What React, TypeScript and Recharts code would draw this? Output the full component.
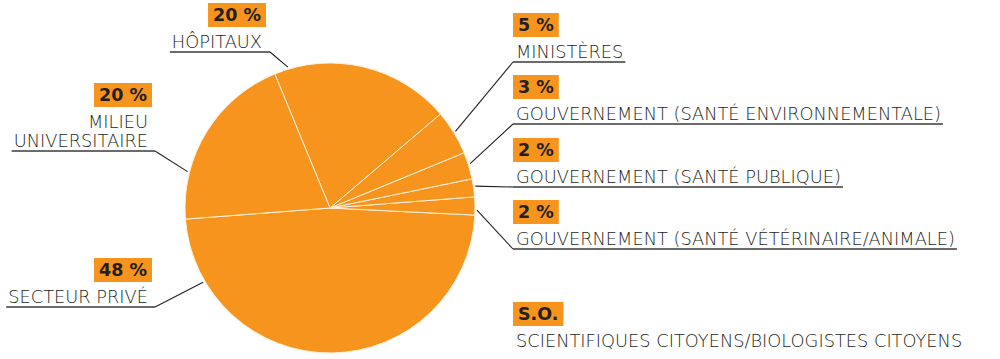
import React from 'react';
import { PieChart, Pie, Cell } from 'recharts';

// secteurs, dans l'ordre du tracé (sens antihoraire depuis la gauche)
const categories = [
  'Secteur privé',
  'Gouvernement (santé vétérinaire/animale)',
  'Gouvernement (santé publique)',
  'Gouvernement (santé environnementale)',
  'Ministères',
  'Hôpitaux',
  'Milieu universitaire',
  'Scientifiques citoyens/biologistes citoyens',
];
const shares = [48, 2, 2, 3, 5, 20, 20, 0];
const shareLabels = ['48 %', '2 %', '2 %', '3 %', '5 %', '20 %', '20 %', 'S.O.'];
const labelLines = [
  ['SECTEUR PRIVÉ'],
  ['GOUVERNEMENT (SANTÉ VÉTÉRINAIRE/ANIMALE)'],
  ['GOUVERNEMENT (SANTÉ PUBLIQUE)'],
  ['GOUVERNEMENT (SANTÉ ENVIRONNEMENTALE)'],
  ['MINISTÈRES'],
  ['HÔPITAUX'],
  ['MILIEU', 'UNIVERSITAIRE'],
  ['SCIENTIFIQUES CITOYENS/BIOLOGISTES CITOYENS'],
];

const data = categories.map((name, i) => ({ name, value: shares[i] }));

// placement des étiquettes (x = bord du texte, underY = soulignement, frac = point d'attache dans la part)
const labelLayout = [
  { side: 'left', x: 148, underY: 307, elbowX: 155, frac: 0.15 },
  { side: 'right', x: 516, underY: 249, elbowX: 513, frac: 0.28 },
  { side: 'right', x: 516, underY: 187, elbowX: 513, frac: 0.58 },
  { side: 'right', x: 516, underY: 124, elbowX: 513, frac: 0.55 },
  { side: 'right', x: 516, underY: 62, elbowX: 513, frac: 0.5 },
  { side: 'left', x: 262, underY: 52, elbowX: 270, frac: 0.92 },
  { side: 'left', x: 148, underY: 151, elbowX: 155, frac: 0.74 },
  { side: 'right', x: 516, underY: 351, elbowX: 513, frac: -1 },
];

const ORANGE = '#F7941E';
const INK = '#231F20';
const FONT = '"DejaVu Sans", sans-serif';
const TEXT_SIZE = 17.8;
const PCT_SIZE = 17.5;
const RADIAN = Math.PI / 180;

let ctx: CanvasRenderingContext2D | null = null;
const measure = (text: string, font: string) => {
  if (!ctx) ctx = document.createElement('canvas').getContext('2d');
  if (!ctx) return text.length * 10;
  ctx.font = font;
  return ctx.measureText(text).width;
};

const renderLabel = (props: any) => {
  const { cx, cy, outerRadius, startAngle, endAngle, index } = props;
  const lay = labelLayout[index];
  const lines = labelLines[index];
  const baseY = lay.underY - 4;
  const lineH = 19;
  const widths = lines.map((l) => measure(l, `300 ${TEXT_SIZE}px ${FONT}`));
  const maxW = Math.max(...widths);
  const firstBase = baseY - (lines.length - 1) * lineH;
  const pctW = measure(shareLabels[index], `bold ${PCT_SIZE}px ${FONT}`) + 10;
  const boxBottom = firstBase - 21;
  const boxX = lay.side === 'left' ? lay.x + 4 - pctW : lay.elbowX;

  let leader = null;
  let underline = null;
  if (lay.frac >= 0) {
    const ang = startAngle + lay.frac * (endAngle - startAngle);
    const r = outerRadius + 2;
    const ex = cx + r * Math.cos(-ang * RADIAN);
    const ey = cy + r * Math.sin(-ang * RADIAN);
    leader = <line x1={ex} y1={ey} x2={lay.elbowX} y2={lay.underY} stroke={INK} strokeWidth={1.1} />;
    const ux1 = lay.side === 'left' ? lay.x - maxW - 2 : lay.elbowX;
    const ux2 = lay.side === 'left' ? lay.elbowX : lay.x + maxW + 2;
    underline = <line x1={ux1} y1={lay.underY} x2={ux2} y2={lay.underY} stroke="#3a3a3a" strokeWidth={1.5} />;
  }

  return (
    <g key={`lbl-${index}`}>
      <rect x={boxX} y={boxBottom - 24} width={pctW} height={24} fill={ORANGE} />
      <text
        x={boxX + pctW / 2}
        y={boxBottom - 6}
        textAnchor="middle"
        fontFamily={FONT}
        fontWeight="bold"
        fontSize={PCT_SIZE}
        fill={INK}
      >
        {shareLabels[index]}
      </text>
      {lines.map((l, i) => (
        <text
          key={i}
          x={lay.x}
          y={firstBase + i * lineH}
          textAnchor={lay.side === 'left' ? 'end' : 'start'}
          fontFamily={FONT}
          fontWeight={300}
          fontSize={TEXT_SIZE}
          fill={INK}
        >
          {l}
        </text>
      ))}
      {underline}
      {leader}
    </g>
  );
};

const App = () => {
  return (
    <div style={{ position: 'absolute', left: 0, top: 0, background: '#fff' }}>
      <PieChart width={1000} height={359} margin={{ top: 0, right: 0, bottom: 0, left: 0 }}>
        <Pie
          data={data}
          dataKey="value"
          cx={330}
          cy={208}
          outerRadius={145}
          startAngle={184.4}
          endAngle={544.4}
          stroke="#FFF1DC"
          strokeWidth={1}
          labelLine={false}
          label={renderLabel}
          isAnimationActive={false}
        >
          {data.map((entry, index) => (
            <Cell key={`cell-${index}`} fill={ORANGE} />
          ))}
        </Pie>
      </PieChart>
    </div>
  );
};

export default App;
